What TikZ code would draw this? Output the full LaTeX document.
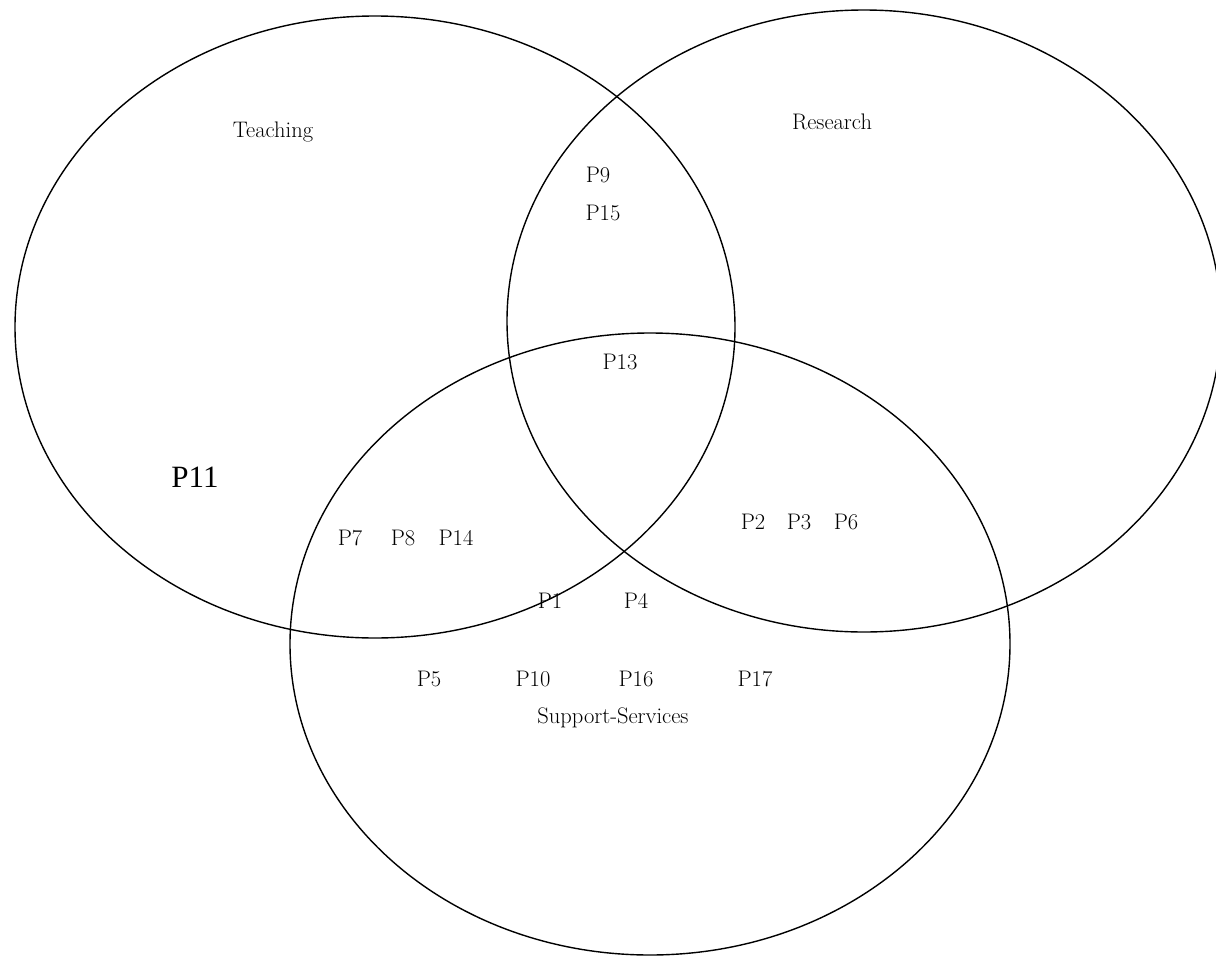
\documentclass[tikz,border=0pt]{standalone}
\usepackage{fontspec}
\newfontfamily\timesfont{Liberation Serif}
\begin{document}
\begin{tikzpicture}[x=1pt,y=-1pt,
  venn/.style={draw=black,line width=1.4pt},
  lbl/.style={font=\fontsize{22.5}{26}\selectfont,inner sep=0pt},
  big/.style={font=\timesfont\fontsize{31}{36}\selectfont,inner sep=0pt}]
\useasboundingbox (0,0) rectangle (1216,956);
\begin{scope}
\clip (0,0) rectangle (1216,956);
\draw[venn] (375,327) ellipse [x radius=360, y radius=311];
\draw[venn] (864,321) ellipse [x radius=357, y radius=311];
\draw[venn] (650,644) ellipse [x radius=360, y radius=311];
\end{scope}
\node[lbl] (teach) at (273,132) {Teaching};
\node[lbl] (res) at (832,122) {Research};
\node[lbl] (p9) at (598,175) {P9};
\node[lbl] (p15) at (603,213) {P15};
\node[lbl] (p13) at (620,362) {P13};
\node[big] (p11) at (195,477) {P11};
\node[lbl] (p7) at (350,538) {P7};
\node[lbl] (p8) at (403,538) {P8};
\node[lbl] (p14) at (456,538) {P14};
\node[lbl] (p2) at (753,522) {P2};
\node[lbl] (p3) at (799,522) {P3};
\node[lbl] (p6) at (846,522) {P6};
\node[lbl] (p1) at (550,601) {P1};
\node[lbl] (p4) at (636,601) {P4};
\node[lbl] (p5) at (429,679) {P5};
\node[lbl] (p10) at (533,679) {P10};
\node[lbl] (p16) at (636,679) {P16};
\node[lbl] (p17) at (755,679) {P17};
\node[lbl] (ss) at (613,718) {Support-Services};
\end{tikzpicture}
\end{document}
